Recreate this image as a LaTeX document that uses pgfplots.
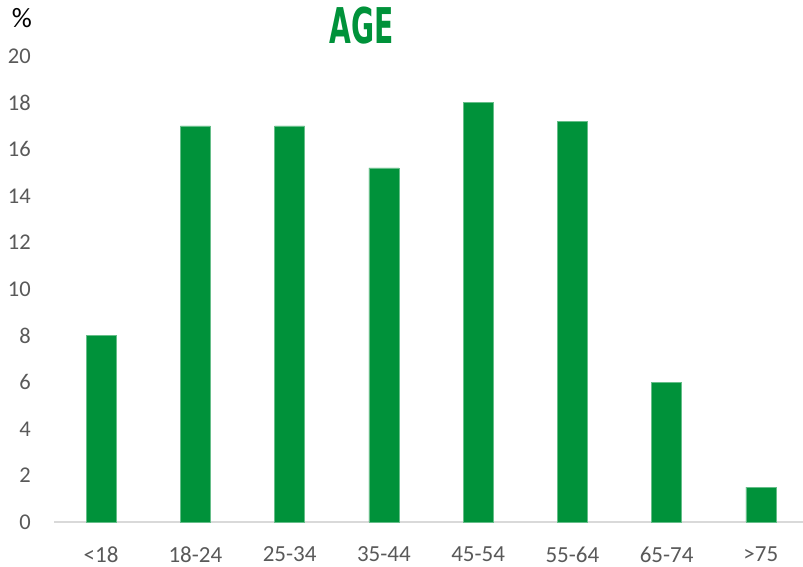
\documentclass[border=0pt]{standalone}
\usepackage{pgfplots}
\pgfplotsset{compat=1.18}
\usepackage{fontspec}
\setmainfont{Carlito}
\newfontfamily\titlefont{DejaVu Sans}
\definecolor{bargreen}{HTML}{00923A}
\definecolor{ticklab}{HTML}{595959}
\definecolor{axisgray}{HTML}{D9D9D9}
\begin{document}
\begin{tikzpicture}[x=1pt,y=1pt]
\useasboundingbox (0,0) rectangle (803,567);
\begin{axis}[
  at={(54pt,45pt)}, anchor=south west,
  scale only axis, width=749pt, height=466pt,
  xmin=-0.5, xmax=7.447, ymin=0, ymax=20,
  axis x line*=bottom, axis y line=none,
  x axis line style={axisgray, line width=1.5pt, -},
  ybar, bar width=30pt,
  xtick={0,...,7},
  xticklabels={{\textless18},{18-24},{25-34},{35-44},{45-54},{55-64},{65-74},{\textgreater75}},
  major tick length=0pt,
  xticklabel style={font=\fontsize{23}{24}\selectfont, text=ticklab, yshift=-21pt},
  ytick={0,2,...,20},
  clip=false,
]
\addplot[fill=bargreen, draw=bargreen!60!white, line width=0.5pt] coordinates {(0,8) (1,17) (2,17) (3,15.2) (4,18) (5,17.2) (6,6) (7,1.5)};
\pgfplotsinvokeforeach{0,2,...,20}{
  \node[anchor=east, text=ticklab, font=\fontsize{22.5}{24}\selectfont, inner sep=0pt] at (axis cs:-0.5,#1) [xshift=-23pt] {#1};
}
\end{axis}
\node[font=\fontsize{28}{30}\selectfont, anchor=center] at (22,549) {\%};
\node[anchor=center, text=bargreen] at (362,541) {\scalebox{0.64}[1.12]{\titlefont\bfseries\fontsize{44}{46}\selectfont AGE}};
\end{tikzpicture}
\end{document}
